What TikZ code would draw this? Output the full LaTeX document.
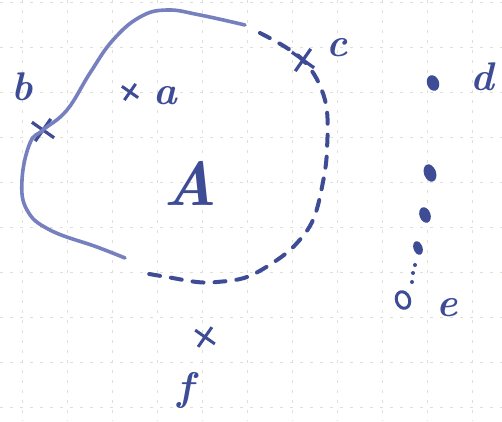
\documentclass[tikz,border=0pt]{standalone}
\usepackage{tikz}
\usetikzlibrary{shapes.misc,shapes.geometric}

\definecolor{ink}{RGB}{62,76,150}
\definecolor{paleink}{RGB}{118,128,190}
\definecolor{gridcol}{RGB}{225,222,212}

\begin{document}
\begin{tikzpicture}[x=1pt, y=-1pt]
    \tikzset{gridline/.style={gridcol, dash pattern=on 3pt off 7pt, line width=0.7pt}}
    \tikzset{xmark/.style={cross out, draw=ink, line width=3.2pt, minimum size=16pt, inner sep=0pt, rotate=10}}
    \tikzset{smallx/.style={xmark, minimum size=11pt, line width=3pt}}
    \tikzset{letter/.style={text=ink, font=\fontsize{40}{42}\selectfont\bfseries\itshape, inner sep=0pt}}
    \tikzset{blob/.style={ellipse, fill=ink, inner sep=0pt, rotate=20}}
    \tikzset{dashedarc/.style={ink, line width=4pt, line cap=round, dash pattern=on 11pt off 11pt}}

    \useasboundingbox (0,0) rectangle (502,421);
    \fill[white] (0,0) rectangle (502,421);

    % paper grid
    \foreach \gx in {22,67,...,472} \draw[gridline] (\gx,0) -- (\gx,421);
    \foreach \gy in {2,47,...,407} \draw[gridline] (0,\gy) -- (502,\gy);

    % points
    \node [smallx] (a) at (130,92) {};
    \node [xmark] (b) at (43,130) {};
    \node [xmark] (c) at (303,60) {};
    \node [smallx, minimum size=14pt] (f) at (205,337) {};
    \node [blob, minimum width=12pt, minimum height=16pt] (d) at (433,83) {};
    \node [blob, minimum width=12pt, minimum height=18pt] (d1) at (430,173) {};
    \node [blob, minimum width=11pt, minimum height=16pt] (d2) at (425,215) {};
    \node [blob, minimum width=9pt, minimum height=14pt] (d3) at (418,248) {};
    \node [circle, fill=ink, inner sep=0pt, minimum size=4pt] (d4) at (415,265) {};
    \node [circle, fill=ink, inner sep=0pt, minimum size=4pt] (d5) at (413,273) {};
    \node [circle, fill=ink, inner sep=0pt, minimum size=4pt] (d6) at (412,282) {};
    \node [ellipse, draw=ink, line width=3pt, minimum width=13pt, minimum height=17pt, inner sep=0pt, rotate=20] (e) at (403,300) {};

    % labels
    \node [letter] (la) at (165,96) {a};
    \node [letter] (lb) at (22,87) {b};
    \node [letter] (lc) at (337,48) {c};
    \node [letter] (ld) at (482,77) {d};
    \node [letter] (le) at (447,308) {e};
    \node [letter] (lf) at (185,390) {f};
    \node [letter, font=\fontsize{62}{64}\selectfont\bfseries\itshape] (lA) at (190,183) {A};

    % region boundary: solid part, then dashed part
    \draw [paleink, line width=3.6pt, line cap=round] plot[smooth, tension=0.7] coordinates {
        (125,258) (97,247) (50,230) (27,210) (22,180) (30,143) (b.center)
        (67,110) (90,73) (113,40) (140,17) (167,10) (200,15) (245,25)};
    \draw [dashedarc] plot[smooth, tension=0.6] coordinates {
        (260,33) (c.center) (325,100) (327,150) (322,187) (313,220)
        (297,243) (277,260) (247,277) (217,282) (197,282) (167,277) (143,273)};
\end{tikzpicture}
\end{document}
